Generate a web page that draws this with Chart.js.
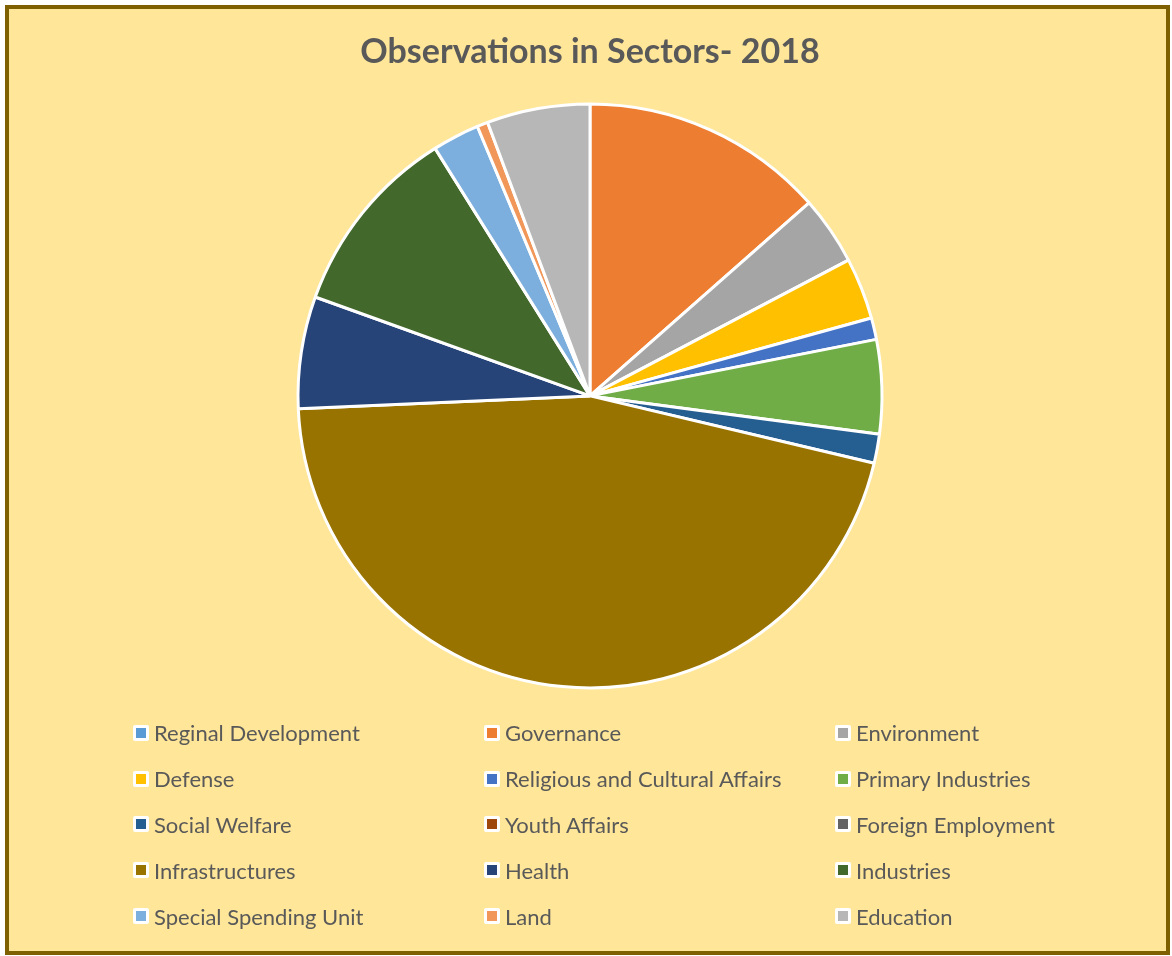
<!DOCTYPE html>
<html lang="en">
<head>
    <meta charset="UTF-8">
    <title>Observations in Sectors- 2018</title>
    <script src="https://cdn.jsdelivr.net/npm/chart.js"></script>
    <style>
        body {
            margin: 0;
            width: 1172px;
            height: 956px;
            background: #ffffff;
            font-family: Lato, 'Noto Sans', sans-serif;
            overflow: hidden;
        }
        .frame {
            position: absolute;
            left: 5px;
            top: 5px;
            width: 1157px;
            height: 942px;
            border: 4px solid #7f6000;
            background: #ffe699;
        }
        #wrap {
            position: absolute;
            left: 0;
            top: 0;
            width: 1172px;
            height: 956px;
        }
        .legend {
            position: absolute;
            left: 133px;
            top: 710px;
            display: grid;
            grid-template-columns: 351px 351px 300px;
            grid-auto-rows: 45.8px;
            color: #595959;
            font-size: 22px;
        }
        .legend div {
            display: flex;
            align-items: center;
            white-space: nowrap;
        }
        .legend span.box {
            width: 10px;
            height: 10px;
            border: 3px solid #ffffff;
            border-radius: 2px;
            margin-right: 5px;
            flex: none;
        }
    </style>
</head>
<body>
    <div class="frame"></div>
    <div id="wrap"><canvas id="torta"></canvas></div>
    <div class="legend" id="legenda"></div>
    <script>
        const settori = [
            "Reginal Development", "Governance", "Environment",
            "Defense", "Religious and Cultural Affairs", "Primary Industries",
            "Social Welfare", "Youth Affairs", "Foreign Employment",
            "Infrastructures", "Health", "Industries",
            "Special Spending Unit", "Land", "Education"
        ];
        // quote in percentuale
        const valori = [0, 13.5, 3.8, 3.4, 1.2, 5.2, 1.6, 0, 0, 45.6, 6.2, 10.6, 2.6, 0.6, 5.7];
        const colori = [
            "#5b9bd5", "#ed7d31", "#a5a5a5",
            "#ffc000", "#4472c4", "#70ad47",
            "#255e91", "#9e480e", "#636363",
            "#997300", "#264478", "#43682b",
            "#7cafdd", "#f1975a", "#b7b7b7"
        ];

        function creaGrafico() {
            const ctx = document.getElementById("torta").getContext("2d");
            new Chart(ctx, {
                type: "pie",
                data: {
                    labels: settori,
                    datasets: [{
                        data: valori,
                        backgroundColor: colori,
                        borderColor: "#ffffff",
                        borderWidth: 3,
                        radius: 292
                    }]
                },
                options: {
                    responsive: true,
                    maintainAspectRatio: false,
                    animation: false,
                    layout: {
                        padding: { left: 8, right: 0, top: 0, bottom: 245 }
                    },
                    plugins: {
                        legend: { display: false },
                        tooltip: { enabled: false },
                        title: {
                            display: true,
                            text: "Observations in Sectors- 2018",
                            color: "#595959",
                            font: { family: "Lato, 'Noto Sans', sans-serif", size: 34, weight: "bold" },
                            padding: { top: 32, bottom: 8 }
                        }
                    }
                }
            });

            const legenda = document.getElementById("legenda");
            settori.forEach((nome, i) => {
                const voce = document.createElement("div");
                const box = document.createElement("span");
                box.className = "box";
                box.style.background = colori[i];
                voce.appendChild(box);
                voce.appendChild(document.createTextNode(nome));
                legenda.appendChild(voce);
            });
        }

        document.addEventListener("DOMContentLoaded", creaGrafico);
    </script>
</body>
</html>
